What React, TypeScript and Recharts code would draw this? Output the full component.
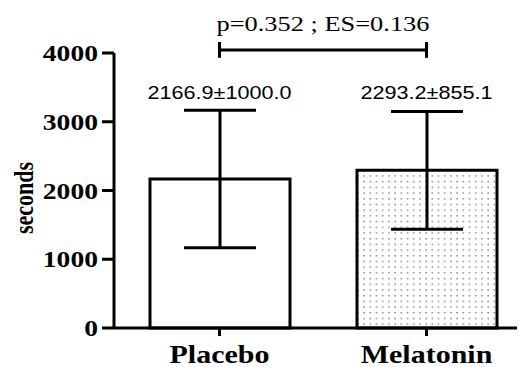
import { BarChart, Bar, XAxis, YAxis, ErrorBar, Cell, ReferenceLine, ReferenceDot } from 'recharts';

const groups = ['Placebo', 'Melatonin'];
const means = [2166.9, 2293.2];
const sds = [1000.0, 855.1];
const yTicks = [0, 1000, 2000, 3000, 4000];
const statText = 'p=0.352 ; ES=0.136';

// y-values (data units) where the annotations sit
const LABEL_Y = 3430;
const BRACKET_Y = 4045;
const BRACKET_TICK = 115;
const STAT_Y = 4430;

const data = groups.map((g, i) => ({
  group: g,
  mean: means[i],
  sd: sds[i],
  label: `${means[i].toFixed(1)}±${sds[i].toFixed(1)}`,
}));

const SERIF = '"Liberation Serif", "Times New Roman", serif';
const SANS = '"Liberation Sans", Arial, sans-serif';

// the original figure is stretched ~1.2x horizontally
function StretchText({ x, y, anchor = 'middle', size, family, weight = 'normal', children }: any) {
  return (
    <text
      transform={`translate(${x},${y}) scale(1.2,1)`}
      textAnchor={anchor}
      dominantBaseline="central"
      fontSize={size}
      fontFamily={family}
      fontWeight={weight}
      fill="#000"
    >
      {children}
    </text>
  );
}

const YTick = ({ x, y, payload }: any) => (
  <StretchText x={x} y={y} anchor="end" size={23} family={SERIF} weight="bold">
    {payload.value}
  </StretchText>
);

const XTick = ({ x, y, payload }: any) => (
  <StretchText x={x} y={y + 16} size={25} family={SERIF} weight="bold">
    {payload.value}
  </StretchText>
);

const dotLabel = (text: string, size: number, family: string) => (props: any) => {
  const vb = props.viewBox || {};
  const cx = vb.x + (vb.width || 0) / 2;
  const cy = vb.y + (vb.height || 0) / 2;
  return (
    <StretchText x={cx} y={cy} size={size} family={family}>
      {text}
    </StretchText>
  );
};

const axisStyle = { stroke: '#000', strokeWidth: 3 };

export default function App() {
  return (
    <div style={{ width: 517, height: 359, overflow: 'hidden' }}>
      <BarChart
        width={522}
        height={359}
        data={data}
        margin={{ top: 45, right: 0, bottom: 0, left: 0 }}
        barSize={140}
      >
        <defs>
          <pattern id="dots" width="6.2" height="5.7" patternUnits="userSpaceOnUse">
            <rect width="6.2" height="5.7" fill="#fff" />
            <rect x="2" y="2" width="1.5" height="1.3" fill="#7a7a7a" />
          </pattern>
        </defs>
        <XAxis
          dataKey="group"
          height={39}
          padding={{ left: 2, right: 0 }}
          tickSize={8}
          axisLine={axisStyle}
          tickLine={axisStyle}
          tick={<XTick />}
        />
        <YAxis
          type="number"
          width={106}
          domain={[0, 4000]}
          ticks={yTicks}
          tickSize={12}
          tickMargin={4}
          axisLine={axisStyle}
          tickLine={axisStyle}
          tick={<YTick />}
          label={{
            content: () => (
              <text
                transform="translate(16,190) scale(1.2,1) rotate(-90)"
                textAnchor="middle"
                dominantBaseline="central"
                fontSize={22}
                fontFamily={SERIF}
                fontWeight="bold"
                fill="#000"
              >
                seconds
              </text>
            ),
          }}
        />
        <Bar dataKey="mean" stroke="#000" strokeWidth={3} isAnimationActive={false}>
          {data.map((d, i) => (
            <Cell key={d.group} fill={i === 0 ? '#fff' : 'url(#dots)'} />
          ))}
          <ErrorBar dataKey="sd" width={36} stroke="#000" strokeWidth={3} direction="y" />
        </Bar>
        {data.map((d) => (
          <ReferenceDot
            key={d.group}
            x={d.group}
            y={LABEL_Y}
            r={1}
            fill="none"
            stroke="none"
            ifOverflow="visible"
            label={dotLabel(d.label, 18, SANS)}
          />
        ))}
        <ReferenceLine
          segment={[
            { x: groups[0], y: BRACKET_Y },
            { x: groups[1], y: BRACKET_Y },
          ]}
          stroke="#000"
          strokeWidth={3}
          ifOverflow="visible"
        />
        {groups.map((g) => (
          <ReferenceLine
            key={g}
            segment={[
              { x: g, y: BRACKET_Y - BRACKET_TICK },
              { x: g, y: BRACKET_Y + BRACKET_TICK },
            ]}
            stroke="#000"
            strokeWidth={3}
            ifOverflow="visible"
          />
        ))}
        <ReferenceDot
          x={groups[0]}
          y={STAT_Y}
          r={1}
          fill="none"
          stroke="none"
          ifOverflow="visible"
          label={(props: any) => {
            const vb = props.viewBox || {};
            const cx = vb.x + (vb.width || 0) / 2;
            const cy = vb.y + (vb.height || 0) / 2;
            return (
              <StretchText x={cx + 103.5} y={cy} size={22} family={SERIF}>
                {statText}
              </StretchText>
            );
          }}
        />
      </BarChart>
    </div>
  );
}
